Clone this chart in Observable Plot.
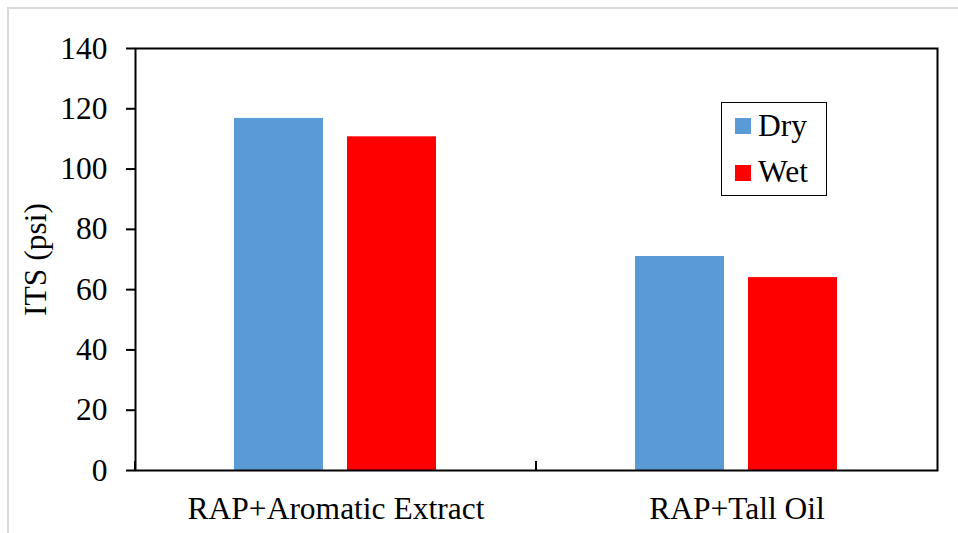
<!DOCTYPE html>
<html>
<head>
<meta charset="utf-8">
<script src="https://cdn.jsdelivr.net/npm/d3@7"></script>
<script src="https://cdn.jsdelivr.net/npm/@observablehq/plot@0.6"></script>
<style>
  body { margin: 0; background: #fff; }
  #wrap { position: relative; width: 958px; height: 533px; overflow: hidden; background: #fff;
          font-family: "Liberation Serif", "Times New Roman", serif; color: #000; }
  #outer { position: absolute; left: 7px; top: 7px; width: 1000px; height: 600px;
           border-top: 2px solid #d9d9d9; border-left: 2px solid #d9d9d9; pointer-events: none; }
  #legend { position: absolute; left: 721px; top: 102px; width: 104px; height: 92px;
            border: 1.5px solid #000; background: #fff; }
  .sw { position: absolute; left: 13px; width: 16px; height: 16px; }
  .lt { position: absolute; left: 36px; font-size: 31.5px; line-height: 1; white-space: nowrap; }
</style>
</head>
<body>
<div id="wrap">
  <div id="chart"></div>
  <div id="legend"></div>
  <div id="outer"></div>
</div>
<script>
const groups = ["RAP+Aromatic Extract", "RAP+Tall Oil"];
const series = ["Dry", "Wet"];
const dryValues = [116.8, 71.0];
const wetValues = [110.7, 64.0];
const colors = ["#5B9BD5", "#FF0000"];
const yTicks = [0, 20, 40, 60, 80, 100, 120, 140];
const yLabel = "ITS (psi)";

const data = groups.flatMap((g, i) => [
  {group: g, series: series[0], value: dryValues[i]},
  {group: g, series: series[1], value: wetValues[i]}
]);

const fontFamily = "Liberation Serif, Times New Roman, serif";

const midTick = (index, scales, values, dims) => {
  const y0 = scales.y(0);
  return d3.create("svg:line")
    .attr("x1", dims.marginLeft).attr("x2", dims.marginLeft)
    .attr("y1", y0).attr("y2", y0 - 9)
    .attr("stroke", "#000").attr("stroke-width", 2)
    .node();
};

const plot = Plot.plot({
  width: 958,
  height: 533,
  marginLeft: 134,
  marginRight: 21,
  marginTop: 48,
  marginBottom: 63,
  style: {fontFamily, fontSize: "31.5px", background: "transparent", color: "#000", overflow: "visible"},
  fx: {domain: groups, padding: 0, label: null},
  x: {domain: series, paddingInner: 0.2105, paddingOuter: 0.866, axis: null},
  y: {domain: [0, 140]},
  color: {domain: series, range: colors},
  marks: [
    Plot.barY(data, {fx: "group", x: "series", y: "value", fill: "series"}),
    Plot.frame({facet: "super", stroke: "#000", strokeWidth: 2}),
    Plot.axisY({ticks: yTicks, tickSize: 9, tickPadding: 19, strokeWidth: 2,
                label: yLabel, labelAnchor: "center", labelArrow: "none", labelOffset: 112,
                fontSize: 31.5, fill: "#000"}),
    Plot.axisFx({anchor: "bottom", tickSize: 0, tickPadding: 26, label: null, fontSize: 31.5, fill: "#000"}),
    midTick
  ]
});
document.getElementById("chart").appendChild(plot);

const legend = document.getElementById("legend");
series.forEach((s, i) => {
  const sw = document.createElement("div");
  sw.className = "sw";
  sw.style.top = (14.5 + i * 47) + "px";
  sw.style.background = colors[i];
  legend.appendChild(sw);
  const t = document.createElement("div");
  t.className = "lt";
  t.style.top = (6.5 + i * 46) + "px";
  t.textContent = s;
  legend.appendChild(t);
});
</script>
</body>
</html>
